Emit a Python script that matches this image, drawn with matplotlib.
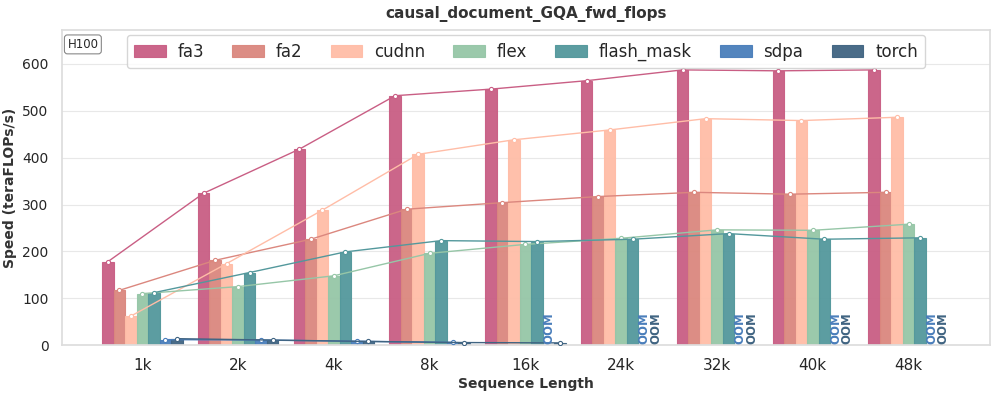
import numpy as np
import matplotlib
matplotlib.use("Agg")
import matplotlib.pyplot as plt
import seaborn as sns

sns.set_theme(style="whitegrid")
plt.rcParams['font.family'] = ['DejaVu Sans']

seq_labels = ['1k', '2k', '4k', '8k', '16k', '24k', '32k', '40k', '48k']
methods = ['fa3', 'fa2', 'cudnn', 'flex', 'flash_mask', 'sdpa', 'torch']
colors = ['#c95e84', '#db877e', '#ffbda7', '#96c6a7', '#53989c', '#4a7ebb', '#406482']

# None = OOM
fa3 = [178, 324, 418, 532, 546, 564, 587, 585, 587]
fa2 = [117, 181, 226, 290, 304, 317, 326, 322, 326]
cudnn = [62, 174, 288, 407, 438, 459, 483, 479, 486]
flex = [110, 125, 148, 196, 215, 228, 246, 245, 258]
flash_mask = [112, 155, 199, 223, 221, 226, 238, 226, 229]
sdpa = [12, 11, 8.5, 6, None, None, None, None, None]
torch = [14, 11, 8, 5.7, 5, None, None, None, None]

series = [fa3, fa2, cudnn, flex, flash_mask, sdpa, torch]

fig, ax = plt.subplots(figsize=(9.97, 3.95), dpi=100)
x = np.arange(len(seq_labels))
width = 0.12
n = len(methods)

for i, (name, vals, c) in enumerate(zip(methods, series, colors)):
    offs = x + (i - (n - 1) / 2) * width
    ok = [v is not None for v in vals]
    xs = offs[ok]
    ys = np.array([v for v in vals if v is not None], dtype=float)
    ax.bar(xs, ys, width, color=c, edgecolor=c, linewidth=0.8, alpha=0.95,
           label=name, zorder=2)
    ax.plot(xs, ys, color=c, linewidth=1.0, marker='o', markersize=3,
            markerfacecolor='white', markeredgecolor=c, markeredgewidth=0.8, zorder=3)
    for xo, v in zip(offs, vals):
        if v is None:
            ax.text(xo, 2, 'OOM', rotation=90, ha='center', va='bottom',
                    color=c, fontsize=8.5, fontweight='bold', zorder=4)

ax.set_xticks(x)
ax.set_xticklabels(seq_labels, fontsize=11)
ax.set_xlim(-0.84, 8.85)
ax.set_ylim(0, 672)
ax.set_yticks([0, 100, 200, 300, 400, 500, 600])
ax.tick_params(axis='y', labelsize=10)
ax.tick_params(axis='x', pad=3)
ax.grid(axis='x', visible=False)
ax.grid(axis='y', color='#e8e8e8', linewidth=0.8)
for s in ax.spines.values():
    s.set_color('#dddddd')

ax.set_title('causal_document_GQA_fwd_flops', fontsize=11, fontweight='bold',
             color='#333333', pad=9)
ax.set_xlabel('Sequence Length', fontsize=10, fontweight='bold', color='#333333', labelpad=3)
ax.set_ylabel('Speed (teraFLOPs/s)', fontsize=10, fontweight='bold', color='#333333')

ax.text(0.006, 0.975, 'H100', transform=ax.transAxes, fontsize=8.5, va='top', ha='left',
        bbox=dict(boxstyle='round,pad=0.25', facecolor='white', edgecolor='#888888', linewidth=0.8))

ax.legend(loc='upper center', bbox_to_anchor=(0.5, 0.984), ncol=7, fontsize=12,
          frameon=True, handlelength=1.9, columnspacing=1.7, handletextpad=0.7,
          borderpad=0.45, borderaxespad=0)

plt.subplots_adjust(left=0.062, right=0.993, top=0.924, bottom=0.126)
plt.savefig('out.png', dpi=100)
